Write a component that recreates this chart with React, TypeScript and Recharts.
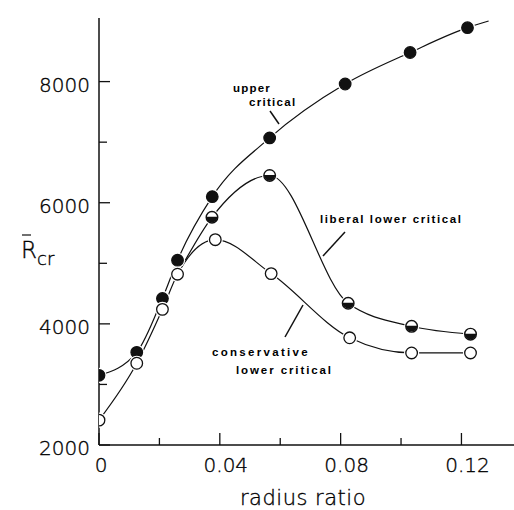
import React from 'react';
import { ComposedChart, Line, XAxis, YAxis } from 'recharts';

// ---- data ----
const upperX = [0, 0.0125, 0.021, 0.026, 0.0375, 0.0565, 0.0815, 0.103, 0.122, 0.129];
const upperY = [3150, 3530, 4420, 5050, 6100, 7070, 7960, 8480, 8890, 9000];
const upperMarked = [true, true, true, true, true, true, true, true, true, false];

const liberalX = [0.026, 0.0374, 0.0565, 0.0825, 0.1035, 0.123];
const liberalY = [4820, 5760, 6450, 4340, 3960, 3830];
const liberalMarked = [false, true, true, true, true, true];

const conservX = [0, 0.0125, 0.021, 0.026, 0.0385, 0.057, 0.083, 0.1035, 0.123];
const conservY = [2410, 3350, 4240, 4820, 5390, 4830, 3770, 3520, 3520];
const conservMarked = [true, true, true, true, true, true, true, true, true];

const xTicks = [0, 0.02, 0.04, 0.06, 0.08, 0.1, 0.12];
const xLabels: Record<string, string> = { '0': '0', '0.04': '0.04', '0.08': '0.08', '0.12': '0.12' };
const yTicks = [2000, 3000, 4000, 5000, 6000, 7000, 8000];
const yLabels: Record<string, string> = { '2000': '2000', '4000': '4000', '6000': '6000', '8000': '8000' };

const build = (xs: number[], ys: number[], marks: boolean[]) =>
  xs.map((x, i) => ({ x, y: ys[i], m: marks[i] }));

const upperData = build(upperX, upperY, upperMarked);
const liberalData = build(liberalX, liberalY, liberalMarked);
const conservData = build(conservX, conservY, conservMarked);

const INK = '#111';
const TXT = '#000';
const FONT = '"DejaVu Sans", sans-serif';

type Kind = 'filled' | 'half' | 'open';

const makeDot = (kind: Kind) => (props: any) => {
  const { cx, cy, payload, index } = props;
  const key = `${kind}-${index}`;
  if (!payload || !payload.m || cx == null || cy == null) return <g key={key} />;
  const r = 5.8;
  return (
    <g key={key}>
      <circle cx={cx} cy={cy} r={7.6} fill="#fff" />
      {kind === 'filled' && <circle cx={cx} cy={cy} r={r} fill={INK} stroke={INK} strokeWidth={1.2} />}
      {kind === 'open' && <circle cx={cx} cy={cy} r={r} fill="#fff" stroke={INK} strokeWidth={1.3} />}
      {kind === 'half' && (
        <g>
          <circle cx={cx} cy={cy} r={r} fill="#fff" stroke={INK} strokeWidth={1.4} />
          <path d={`M ${cx - r} ${cy - 0.5} A ${r} ${r} 0 0 0 ${cx + r} ${cy - 0.5} Z`} fill={INK} />
        </g>
      )}
    </g>
  );
};

const isIn = (v: number, map: Record<string, string>) => map[String(v)] !== undefined;

const BottomTick = (p: any) => {
  const v = p.payload.value;
  const major = isIn(v, xLabels);
  return (
    <g>
      <line x1={p.x} y1={p.y} x2={p.x} y2={p.y - (major ? 12 : 7)} stroke={INK} strokeWidth={1.3} />
      {major && (
        <text x={p.x + (v === 0 ? 2 : 6)} y={p.y + 27} textAnchor="middle" fontFamily={FONT} fontSize={20} fontWeight={200} fill={TXT} stroke={TXT} strokeWidth={0.35}>
          {xLabels[String(v)]}
        </text>
      )}
    </g>
  );
};

const TopTick = (p: any) => {
  const v = p.payload.value;
  const major = isIn(v, xLabels);
  if (v === 0) return <g />;
  return <line x1={p.x - 4} y1={p.y} x2={p.x - 4} y2={p.y + (major ? 12 : 7)} stroke={INK} strokeWidth={1.3} />;
};

const LeftTick = (p: any) => {
  const v = p.payload.value;
  const major = isIn(v, yLabels);
  return (
    <g>
      <line x1={p.x} y1={p.y} x2={p.x + (major ? 11 : 8)} y2={p.y} stroke={INK} strokeWidth={1.3} />
      {major && (
        <text x={p.x - 9} y={p.y + 3} textAnchor="end" dominantBaseline="central" fontFamily={FONT} fontSize={20} fontWeight={200} fill={TXT} stroke={TXT} strokeWidth={0.35}>
          {yLabels[String(v)]}
        </text>
      )}
    </g>
  );
};

const RightTick = (p: any) => {
  const v = p.payload.value;
  if (v === 2000) return <g />;
  return <line x1={p.x} y1={p.y - 6} x2={p.x - 9} y2={p.y - 6} stroke={INK} strokeWidth={1.3} />;
};

const annot = { fontFamily: '"Liberation Sans", Arial, sans-serif', fontSize: 11.5, fontWeight: 700, fill: TXT } as const;
const light = { fontFamily: FONT, fontWeight: 200, fill: TXT, stroke: TXT, strokeWidth: 0.35 } as const;

export default function App() {
  return (
    <div style={{ position: 'absolute', left: 0, top: 0, width: 514, height: 510, background: '#fff' }}>
      <ComposedChart width={514} height={510} margin={{ top: 18, right: 0, bottom: 0, left: 0 }}>
        <XAxis xAxisId="b" type="number" dataKey="x" orientation="bottom" domain={[0, 0.1374]} ticks={xTicks}
          interval={0} height={65} tickSize={0} tickMargin={0} tickLine={false} allowDataOverflow
          axisLine={{ stroke: INK, strokeWidth: 1.5 }} tick={(p: any) => <BottomTick {...p} />} />
        <XAxis xAxisId="t" type="number" dataKey="x" orientation="top" domain={[0, 0.1374]} ticks={xTicks}
          interval={0} height={0} tickSize={0} tickMargin={0} tickLine={false} allowDataOverflow
          axisLine={{ stroke: INK, strokeWidth: 1.4 }} tick={(p: any) => <TopTick {...p} />} />
        <YAxis yAxisId="l" type="number" orientation="left" domain={[2000, 9050]} ticks={yTicks}
          interval={0} width={99} tickSize={0} tickMargin={0} tickLine={false} allowDataOverflow
          axisLine={{ stroke: INK, strokeWidth: 1.5 }} tick={(p: any) => <LeftTick {...p} />} />
        <YAxis yAxisId="r" type="number" orientation="right" domain={[2000, 9050]} ticks={yTicks}
          interval={0} width={0} tickSize={0} tickMargin={0} tickLine={false} allowDataOverflow
          axisLine={false} tick={(p: any) => <RightTick {...p} />} />
        <Line xAxisId="b" yAxisId="l" data={upperData} dataKey="y" type="monotone" stroke={INK} strokeWidth={1.2}
          dot={makeDot('filled')} activeDot={false} isAnimationActive={false} />
        <Line xAxisId="b" yAxisId="l" data={liberalData} dataKey="y" type="monotone" stroke={INK} strokeWidth={1.2}
          dot={makeDot('half')} activeDot={false} isAnimationActive={false} />
        <Line xAxisId="b" yAxisId="l" data={conservData} dataKey="y" type="monotone" stroke={INK} strokeWidth={1.2}
          dot={makeDot('open')} activeDot={false} isAnimationActive={false} />
      </ComposedChart>
      <svg width={514} height={510} style={{ position: 'absolute', left: 0, top: 0, pointerEvents: 'none' }}>
        {/* y-axis label R̄cr */}
        <line x1={22} y1={235} x2={31} y2={235} stroke={INK} strokeWidth={1.2} />
        <text x={21} y={258} fontSize={23} {...light}>R</text>
        <text x={37} y={265} fontSize={18} {...light}>cr</text>
        {/* x-axis label */}
        <text x={303} y={505} textAnchor="middle" fontSize={21} letterSpacing={0.5} {...light}>radius ratio</text>
        {/* annotations */}
        <text x={233} y={92} {...annot} letterSpacing={1.2}>upper</text>
        <text x={249} y={106} {...annot} letterSpacing={1.3}>critical</text>
        <line x1={270} y1={111} x2={279} y2={124} stroke={INK} strokeWidth={1.5} />
        <text x={320} y={223} {...annot} letterSpacing={1.6}>liberal lower critical</text>
        <line x1={345} y1={232} x2={323} y2={256} stroke={INK} strokeWidth={1.5} />
        <text x={212} y={356} {...annot} letterSpacing={2.3}>conservative</text>
        <text x={236} y={374} {...annot} letterSpacing={1.9}>lower critical</text>
        <line x1={303} y1={305} x2={285} y2={337} stroke={INK} strokeWidth={1.5} />
      </svg>
    </div>
  );
}
